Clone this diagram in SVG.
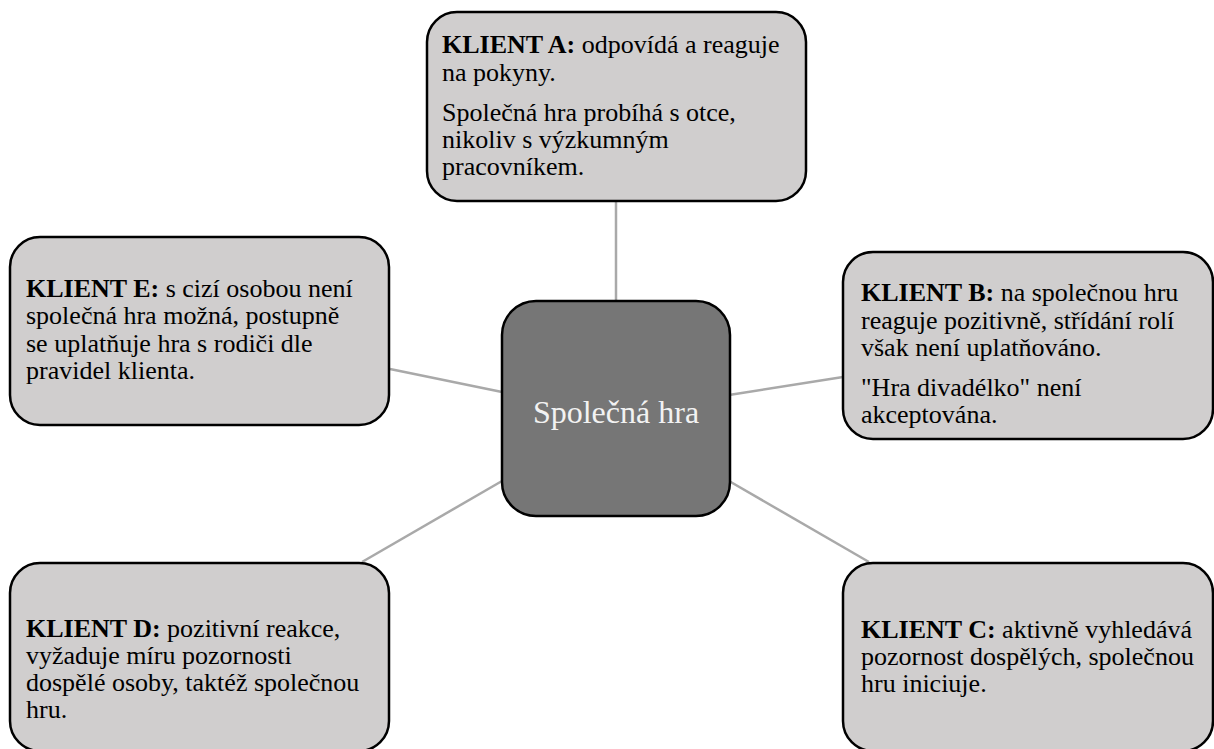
<svg xmlns="http://www.w3.org/2000/svg" width="1214" height="749" viewBox="0 0 1214 749">
  <style>
    .box { fill: #d0cece; stroke: #000000; stroke-width: 2.5; }
    .hub { fill: #767676; stroke: #000000; stroke-width: 2.5; }
    .link { stroke: #a9a9a9; stroke-width: 2.5; fill: none; }
    .txt { font-family: "Liberation Serif", "Times New Roman", serif; font-size: 26px; fill: #000000; }
    .hubtxt { font-family: "Liberation Serif", "Times New Roman", serif; font-size: 32px; fill: #f2f2f2; }
    .b { font-weight: bold; }
  </style>

  <!-- spokes from the hub to each client box -->
  <g id="connectors">
    <line class="link" x1="616" y1="201" x2="616" y2="301"/>
    <line class="link" x1="390" y1="369" x2="502" y2="392"/>
    <line class="link" x1="729" y1="395" x2="843" y2="377"/>
    <line class="link" x1="362" y1="562" x2="502" y2="481"/>
    <line class="link" x1="729" y1="481" x2="869" y2="562"/>
  </g>

  <g id="hub">
    <rect class="hub" x="502" y="301" width="228" height="215" rx="34" ry="34"/>
    <text class="hubtxt" x="616" y="423" text-anchor="middle">Společná hra</text>
  </g>

  <g id="klient-a">
    <rect class="box" x="427" y="12" width="379" height="189" rx="30" ry="30"/>
    <text class="txt">
      <tspan x="442" y="53"><tspan class="b">KLIENT A:</tspan> odpovídá a reaguje</tspan>
      <tspan x="442" y="81">na pokyny.</tspan>
      <tspan x="442" y="121">Společná hra probíhá s otce,</tspan>
      <tspan x="442" y="148">nikoliv s výzkumným</tspan>
      <tspan x="442" y="175">pracovníkem.</tspan>
    </text>
  </g>

  <g id="klient-b">
    <rect class="box" x="843" y="252" width="370" height="187" rx="30" ry="30"/>
    <text class="txt">
      <tspan x="861" y="301"><tspan class="b">KLIENT B:</tspan> na společnou hru</tspan>
      <tspan x="861" y="329">reaguje pozitivně, střídání rolí</tspan>
      <tspan x="861" y="356">však není uplatňováno.</tspan>
      <tspan x="861" y="396">"Hra divadélko" není</tspan>
      <tspan x="861" y="423">akceptována.</tspan>
    </text>
  </g>

  <g id="klient-c">
    <rect class="box" x="843" y="563" width="370" height="188" rx="30" ry="30"/>
    <text class="txt">
      <tspan x="861" y="638"><tspan class="b">KLIENT C:</tspan> aktivně vyhledává</tspan>
      <tspan x="861" y="665">pozornost dospělých, společnou</tspan>
      <tspan x="861" y="692">hru iniciuje.</tspan>
    </text>
  </g>

  <g id="klient-d">
    <rect class="box" x="10" y="563" width="379" height="188" rx="30" ry="30"/>
    <text class="txt">
      <tspan x="26" y="637"><tspan class="b">KLIENT D:</tspan> pozitivní reakce,</tspan>
      <tspan x="26" y="664">vyžaduje míru pozornosti</tspan>
      <tspan x="26" y="691">dospělé osoby, taktéž společnou</tspan>
      <tspan x="26" y="718">hru.</tspan>
    </text>
  </g>

  <g id="klient-e">
    <rect class="box" x="10" y="237" width="379" height="188" rx="30" ry="30"/>
    <text class="txt">
      <tspan x="26" y="297"><tspan class="b">KLIENT E:</tspan> s cizí osobou není</tspan>
      <tspan x="26" y="324">společná hra možná, postupně</tspan>
      <tspan x="26" y="352">se uplatňuje hra s rodiči dle</tspan>
      <tspan x="26" y="379">pravidel klienta.</tspan>
    </text>
  </g>
</svg>
